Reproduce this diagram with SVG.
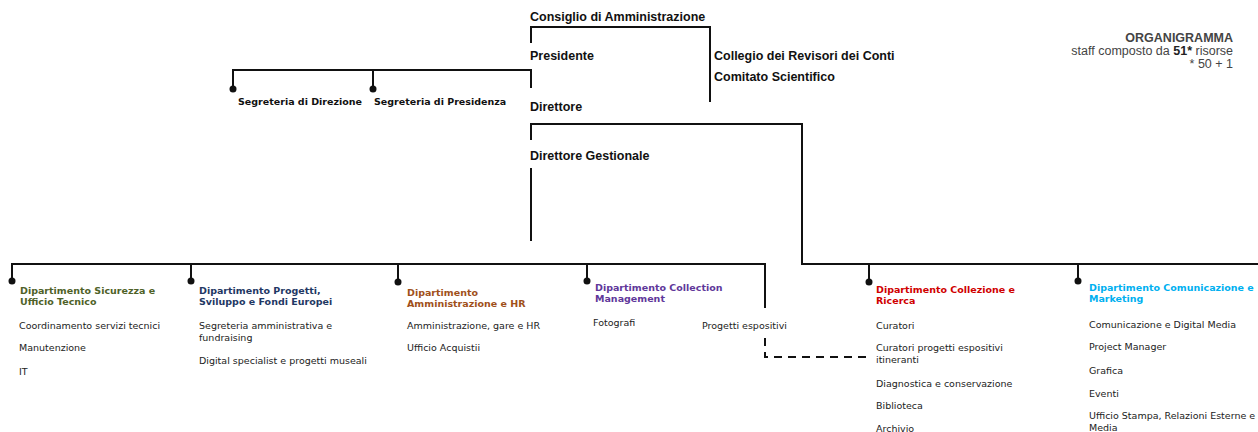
<svg xmlns="http://www.w3.org/2000/svg" width="1258" height="432" viewBox="0 0 1258 432">
<style>
.top{font-family:"Liberation Sans",Arial,sans-serif;font-weight:bold;font-size:12.5px;fill:#111}
.seg{font-family:"DejaVu Sans",Verdana,sans-serif;font-weight:bold;font-size:9.5px;fill:#111}
.hd{font-family:"DejaVu Sans",Verdana,sans-serif;font-weight:bold;font-size:9.5px}
.it{font-family:"DejaVu Sans",Verdana,sans-serif;font-size:9.5px;fill:#222}
.org{font-family:"Liberation Sans",Arial,sans-serif;font-size:12.5px;fill:#444;text-anchor:end}
.ln{fill:none;stroke:#111;stroke-width:2}
.dash{fill:none;stroke:#111;stroke-width:2;stroke-dasharray:8 6}
.dot{fill:#111}
</style>
<rect width="1258" height="432" fill="#fff"/>
<g id="connectors">
<path class="ln" d="M531,43 V27 H710 V102"/>
<path class="ln" d="M531,88 V70 H233 V87"/>
<path class="ln" d="M373,70 V87"/>
<path class="ln" d="M531,140 V124 H802 V264 H1258"/>
<path class="ln" d="M531,168 V241"/>
<path class="ln" d="M12,280 V264 H765 V308"/>
<path class="ln" d="M191,264 V280 M398,264 V280 M587,264 V280 M869,264 V280 M1078,264 V280"/>
<path class="dash" d="M765,338 V357 H866"/>
<circle class="dot" cx="233" cy="89" r="3.5"/>
<circle class="dot" cx="373" cy="89" r="3.5"/>
<circle class="dot" cx="12" cy="281" r="3.5"/>
<circle class="dot" cx="191" cy="281" r="3.5"/>
<circle class="dot" cx="398" cy="282" r="3.5"/>
<circle class="dot" cx="587" cy="281" r="3.5"/>
<circle class="dot" cx="869" cy="282" r="3.5"/>
<circle class="dot" cx="1078" cy="281" r="3.5"/>
</g>
<g id="consiglio"><text class="top" x="530" y="21">Consiglio di Amministrazione</text></g>
<g id="presidente"><text class="top" x="530" y="60">Presidente</text></g>
<g id="collegio"><text class="top" x="714" y="59.5">Collegio dei Revisori dei Conti</text></g>
<g id="comitato"><text class="top" x="714" y="80.5">Comitato Scientifico</text></g>
<g id="seg-direzione"><text class="seg" x="238" y="104.5">Segreteria di Direzione</text></g>
<g id="seg-presidenza"><text class="seg" x="374" y="104.5">Segreteria di Presidenza</text></g>
<g id="direttore"><text class="top" x="530" y="111">Direttore</text></g>
<g id="direttore-gestionale"><text class="top" x="530" y="160">Direttore Gestionale</text></g>
<g id="organigramma">
<text class="org" x="1233" y="42" font-weight="bold" font-size="12px" fill="#333">ORGANIGRAMMA</text>
<text class="org" x="1233" y="55">staff composto da <tspan font-weight="bold" fill="#222">51*</tspan> risorse</text>
<text class="org" x="1233" y="68">* 50 + 1</text>
</g>
<g id="dip-sicurezza">
<text class="hd" fill="#4f6228" x="20" y="293.5">Dipartimento Sicurezza e</text>
<text class="hd" fill="#4f6228" x="20" y="304.5">Ufficio Tecnico</text>
<text class="it" x="19" y="328.5">Coordinamento servizi tecnici</text>
<text class="it" x="19" y="350.5">Manutenzione</text>
<text class="it" x="19" y="375">IT</text>
</g>
<g id="dip-progetti">
<text class="hd" fill="#1f3864" x="199" y="293.5">Dipartimento Progetti,</text>
<text class="hd" fill="#1f3864" x="199" y="304.5">Sviluppo e Fondi Europei</text>
<text class="it" x="199" y="328.5">Segreteria amministrativa e</text>
<text class="it" x="199" y="340.5">fundraising</text>
<text class="it" x="199" y="363.5">Digital specialist e progetti museali</text>
</g>
<g id="dip-amministrazione">
<text class="hd" fill="#a0501a" x="407" y="296">Dipartimento</text>
<text class="hd" fill="#a0501a" x="407" y="307">Amministrazione e HR</text>
<text class="it" x="407" y="329">Amministrazione, gare e HR</text>
<text class="it" x="407" y="350.5">Ufficio Acquistii</text>
</g>
<g id="dip-collection">
<text class="hd" fill="#60379a" x="595" y="291">Dipartimento Collection</text>
<text class="hd" fill="#60379a" x="595" y="302">Management</text>
<text class="it" x="593" y="326">Fotografi</text>
</g>
<g id="progetti-espositivi"><text class="it" x="702" y="329">Progetti espositivi</text></g>
<g id="dip-collezione">
<text class="hd" fill="#d00000" x="876" y="292.5">Dipartimento Collezione e</text>
<text class="hd" fill="#d00000" x="876" y="303.5">Ricerca</text>
<text class="it" x="876" y="328.5">Curatori</text>
<text class="it" x="876" y="350.5">Curatori progetti espositivi</text>
<text class="it" x="876" y="363">itineranti</text>
<text class="it" x="876" y="386.5">Diagnostica e conservazione</text>
<text class="it" x="876" y="408.5">Biblioteca</text>
<text class="it" x="876" y="431.5">Archivio</text>
</g>
<g id="dip-comunicazione">
<text class="hd" fill="#00b0f0" x="1089" y="291">Dipartimento Comunicazione e</text>
<text class="hd" fill="#00b0f0" x="1089" y="302">Marketing</text>
<text class="it" x="1089" y="327.5">Comunicazione e Digital Media</text>
<text class="it" x="1089" y="349.5">Project Manager</text>
<text class="it" x="1089" y="373.5">Grafica</text>
<text class="it" x="1089" y="396.5">Eventi</text>
<text class="it" x="1089" y="419">Ufficio Stampa, Relazioni Esterne e</text>
<text class="it" x="1089" y="430.5">Media</text>
</g>
</svg>
